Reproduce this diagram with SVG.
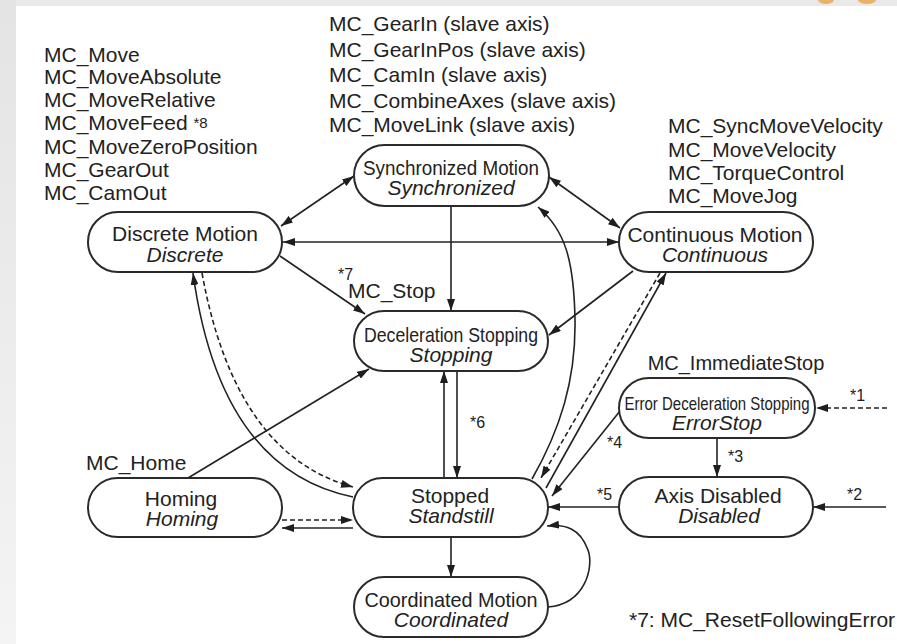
<svg xmlns="http://www.w3.org/2000/svg" width="897" height="644" viewBox="0 0 897 644">
  <defs>
    <linearGradient id="edgeShade" x1="0" y1="0" x2="0" y2="1">
      <stop offset="0" stop-color="#e4e4e4"/>
      <stop offset="0.5" stop-color="#ececec"/>
      <stop offset="1" stop-color="#f4f4f4"/>
    </linearGradient>
    <marker id="ah" viewBox="0 0 12 8" refX="12" refY="4" markerWidth="12" markerHeight="8" markerUnits="userSpaceOnUse" orient="auto-start-reverse">
      <path d="M0,0 L12,4 L0,8 z" fill="#1e1e1e"/>
    </marker>
  </defs>
  <style>
    .node rect { fill: #ffffff; stroke: #2a2a2a; stroke-width: 2; }
    .node text, .lbl { font-family: "Liberation Sans", Arial, Helvetica, sans-serif; fill: #222222; }
    .node text { font-size: 21px; text-anchor: middle; }
    .node .it { font-style: italic; }
    .lbl { font-size: 21px; }
    .note { font-size: 16px; }
    #connectors path { fill: none; stroke: #222222; stroke-width: 1.6; }
    #connectors .dash { stroke-dasharray: 5 3; }
  </style>

  <!-- page background -->
  <rect x="0" y="0" width="897" height="644" fill="#ffffff"/>
  <rect x="0" y="0" width="897" height="6" fill="#e9e9e9"/>
  <rect x="0" y="0" width="16" height="644" fill="url(#edgeShade)"/>
  <ellipse cx="826" cy="0" rx="8" ry="4" fill="#e9a44a" opacity="0.8"/>
  <ellipse cx="867" cy="0" rx="9" ry="4" fill="#e9a44a" opacity="0.8"/>

  <!-- connectors -->
  <g id="connectors">
    <path d="M281,226 L354,176" marker-start="url(#ah)" marker-end="url(#ah)"/>
    <path d="M549,177 L620,228" marker-start="url(#ah)" marker-end="url(#ah)"/>
    <path d="M283,242 L619,242" marker-start="url(#ah)" marker-end="url(#ah)"/>
    <path d="M451,206 L451,311" marker-end="url(#ah)"/>
    <path d="M280,256 L365,314" marker-end="url(#ah)"/>
    <path d="M633,271 L549,335" marker-end="url(#ah)"/>
    <path d="M188,478 L369,369" marker-end="url(#ah)"/>
    <path d="M444,478 L444,371" marker-end="url(#ah)"/>
    <path d="M457,371 L457,478" marker-end="url(#ah)"/>
    <path d="M451,537 L451,577" marker-end="url(#ah)"/>
    <path d="M548,607 C586,604 594,566 588,550 C580,528 565,524 547,526" marker-end="url(#ah)"/>
    <path d="M353,497 Q220,470 193,273" marker-end="url(#ah)"/>
    <path class="dash" d="M202,273 Q235,455 353,487" marker-end="url(#ah)"/>
    <path class="dash" d="M282,520 L353,520" marker-end="url(#ah)"/>
    <path d="M353,528 L282,528" marker-end="url(#ah)"/>
    <path d="M532,479 C560,430 576,380 575,320 C574,260 565,230 538,207" marker-end="url(#ah)"/>
    <path class="dash" d="M660,273 L541,478" marker-end="url(#ah)"/>
    <path d="M546,488 L666,273" marker-end="url(#ah)"/>
    <path d="M620,411 L552,496" marker-end="url(#ah)"/>
    <path d="M717,439 L717,477" marker-end="url(#ah)"/>
    <path d="M619,507 L548,507" marker-end="url(#ah)"/>
    <path class="dash" d="M887,408 L816,408" marker-end="url(#ah)"/>
    <path d="M886,507 L813,507" marker-end="url(#ah)"/>
  </g>

  <!-- states -->
  <g id="discrete" class="node">
    <rect x="88" y="212" width="194" height="60" rx="30"/>
    <text x="185" y="241">Discrete Motion</text>
    <text class="it" x="185" y="262">Discrete</text>
  </g>
  <g id="synchronized" class="node">
    <rect x="354" y="145" width="195" height="61" rx="30.5"/>
    <text x="451" y="175" textLength="176" lengthAdjust="spacingAndGlyphs">Synchronized Motion</text>
    <text class="it" x="451" y="195">Synchronized</text>
  </g>
  <g id="continuous" class="node">
    <rect x="619" y="212" width="194" height="60" rx="30"/>
    <text x="715" y="242">Continuous Motion</text>
    <text class="it" x="715" y="262">Continuous</text>
  </g>
  <g id="stopping" class="node">
    <rect x="354" y="311" width="194" height="60" rx="30"/>
    <text x="451" y="342" textLength="174" lengthAdjust="spacingAndGlyphs">Deceleration Stopping</text>
    <text class="it" x="451" y="362">Stopping</text>
  </g>
  <g id="errorstop" class="node">
    <rect x="619" y="378" width="196" height="60" rx="30"/>
    <text x="717" y="410" style="font-size:19px" textLength="185" lengthAdjust="spacingAndGlyphs">Error Deceleration Stopping</text>
    <text class="it" x="717" y="430">ErrorStop</text>
  </g>
  <g id="disabled" class="node">
    <rect x="619" y="477" width="194" height="60" rx="30"/>
    <text x="718" y="503">Axis Disabled</text>
    <text class="it" x="719" y="523">Disabled</text>
  </g>
  <g id="homing" class="node">
    <rect x="88" y="478" width="194" height="59" rx="29.5"/>
    <text x="181" y="506">Homing</text>
    <text class="it" x="182" y="526">Homing</text>
  </g>
  <g id="stopped" class="node">
    <rect x="353" y="478" width="195" height="59" rx="29.5"/>
    <text x="450" y="503">Stopped</text>
    <text class="it" x="451" y="523">Standstill</text>
  </g>
  <g id="coordinated" class="node">
    <rect x="354" y="577" width="194" height="60" rx="30"/>
    <text x="451" y="607" textLength="173" lengthAdjust="spacingAndGlyphs">Coordinated Motion</text>
    <text class="it" x="451" y="627">Coordinated</text>
  </g>

  <!-- instruction lists -->
  <g id="discrete-instructions">
    <text x="44" y="62" class="lbl">MC_Move</text>
    <text x="44" y="84" class="lbl">MC_MoveAbsolute</text>
    <text x="44" y="107" class="lbl">MC_MoveRelative</text>
    <text x="44" y="130" class="lbl">MC_MoveFeed <tspan style="font-size:15px" dy="-2">*8</tspan></text>
    <text x="44" y="154" class="lbl">MC_MoveZeroPosition</text>
    <text x="44" y="177" class="lbl">MC_GearOut</text>
    <text x="44" y="200" class="lbl">MC_CamOut</text>
  </g>
  <g id="sync-instructions">
    <text x="329" y="31" class="lbl">MC_GearIn (slave axis)</text>
    <text x="329" y="57" class="lbl">MC_GearInPos (slave axis)</text>
    <text x="329" y="82" class="lbl">MC_CamIn (slave axis)</text>
    <text x="329" y="108" class="lbl">MC_CombineAxes (slave axis)</text>
    <text x="329" y="132" class="lbl">MC_MoveLink (slave axis)</text>
  </g>
  <g id="continuous-instructions">
    <text x="668" y="133" class="lbl">MC_SyncMoveVelocity</text>
    <text x="668" y="157" class="lbl">MC_MoveVelocity</text>
    <text x="668" y="180" class="lbl">MC_TorqueControl</text>
    <text x="668" y="203" class="lbl">MC_MoveJog</text>
  </g>

  <!-- transition labels -->
  <g id="transition-labels">
    <text x="338" y="280" class="lbl note">*7</text>
    <text x="348" y="298" class="lbl">MC_Stop</text>
    <text x="86" y="470" class="lbl">MC_Home</text>
    <text x="736" y="370" class="lbl" style="font-size:20px" text-anchor="middle">MC_ImmediateStop</text>
    <text x="470" y="428" class="lbl note">*6</text>
    <text x="607" y="448" class="lbl note">*4</text>
    <text x="728" y="462" class="lbl note">*3</text>
    <text x="597" y="500" class="lbl note">*5</text>
    <text x="847" y="500" class="lbl note">*2</text>
    <text x="850" y="401" class="lbl note">*1</text>
    <text x="629" y="627" class="lbl">*7: MC_ResetFollowingError</text>
  </g>
</svg>
